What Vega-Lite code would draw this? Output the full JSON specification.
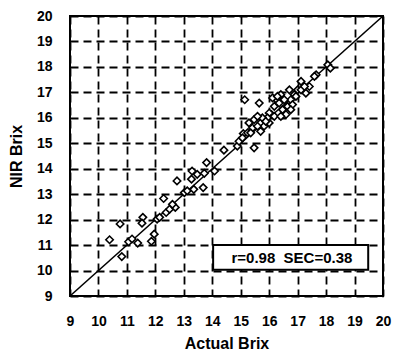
{
  "$schema": "https://vega.github.io/schema/vega-lite/v6.json",
  "autosize": "none",
  "width": 313,
  "height": 280,
  "padding": {"left": 70, "top": 16, "right": 10, "bottom": 60},
  "background": "white",
  "config": {
    "view": {"stroke": "black", "strokeWidth": 2},
    "axis": {
      "labelFont": "Liberation Sans Narrow, Liberation Sans", "labelFontWeight": "bold", "labelFontSize": 14, "labelColor": "black",
      "labelOverlap": false, "labelFlush": false, "format": "d",
      "titleFont": "Liberation Sans Narrow, Liberation Sans", "titleFontWeight": "bold", "titleFontSize": 16, "titleColor": "black",
      "grid": true, "gridColor": "black", "gridDash": [8, 5], "gridWidth": 1.8, "gridOpacity": 1,
      "domain": false, "ticks": false
    }
  },
  "datasets": {
    "pts": [
      {"a": 10.39, "n": 11.21}, {"a": 10.82, "n": 10.55}, {"a": 10.76, "n": 11.83}, {"a": 11.06, "n": 11.13},
      {"a": 11.18, "n": 11.24}, {"a": 11.38, "n": 11.08}, {"a": 11.56, "n": 12.09}, {"a": 11.53, "n": 11.86},
      {"a": 11.86, "n": 11.15}, {"a": 11.96, "n": 11.43}, {"a": 12.06, "n": 12.02}, {"a": 12.15, "n": 12.09},
      {"a": 12.29, "n": 12.83}, {"a": 12.38, "n": 12.28}, {"a": 12.5, "n": 12.41}, {"a": 12.7, "n": 12.48},
      {"a": 12.6, "n": 12.6}, {"a": 12.76, "n": 13.52}, {"a": 13.02, "n": 13.06}, {"a": 13.12, "n": 13.13},
      {"a": 13.29, "n": 13.91}, {"a": 13.27, "n": 13.59}, {"a": 13.35, "n": 13.19}, {"a": 13.47, "n": 13.78},
      {"a": 13.68, "n": 13.26}, {"a": 13.72, "n": 13.82}, {"a": 13.8, "n": 14.24}, {"a": 14.08, "n": 13.91},
      {"a": 14.41, "n": 14.73}, {"a": 14.88, "n": 14.89}, {"a": 14.94, "n": 15.08}, {"a": 15.09, "n": 15.38},
      {"a": 15.14, "n": 16.71}, {"a": 15.47, "n": 14.82}, {"a": 15.41, "n": 15.6}, {"a": 15.65, "n": 16.58},
      {"a": 15.29, "n": 15.8}, {"a": 15.47, "n": 15.93}, {"a": 15.7, "n": 15.8}, {"a": 15.82, "n": 15.67},
      {"a": 16.0, "n": 15.8}, {"a": 16.08, "n": 16.13}, {"a": 16.18, "n": 16.45}, {"a": 16.27, "n": 16.71},
      {"a": 16.41, "n": 16.91}, {"a": 16.47, "n": 16.32}, {"a": 16.59, "n": 16.13}, {"a": 16.65, "n": 16.45},
      {"a": 16.76, "n": 16.71}, {"a": 16.88, "n": 16.91}, {"a": 17.0, "n": 17.1}, {"a": 17.12, "n": 17.43},
      {"a": 17.29, "n": 16.97}, {"a": 17.41, "n": 17.23}, {"a": 16.0, "n": 16.19}, {"a": 16.18, "n": 16.06},
      {"a": 16.35, "n": 16.58}, {"a": 16.53, "n": 16.71}, {"a": 16.71, "n": 17.1}, {"a": 16.82, "n": 16.52},
      {"a": 16.94, "n": 16.84}, {"a": 15.94, "n": 16.0}, {"a": 15.76, "n": 16.0}, {"a": 15.59, "n": 16.06},
      {"a": 16.41, "n": 16.06}, {"a": 17.65, "n": 17.69}, {"a": 17.59, "n": 17.63}, {"a": 18.06, "n": 18.08},
      {"a": 18.15, "n": 17.95}, {"a": 17.12, "n": 17.1}, {"a": 17.24, "n": 17.23}, {"a": 16.76, "n": 16.32},
      {"a": 15.06, "n": 15.21}, {"a": 15.24, "n": 15.41}, {"a": 15.59, "n": 15.67}, {"a": 15.88, "n": 15.86},
      {"a": 16.12, "n": 16.78}, {"a": 16.29, "n": 16.84}, {"a": 15.7, "n": 15.47}, {"a": 15.35, "n": 15.41}
    ],
    "diag": [{"x1": 9, "y1": 9, "x2": 20, "y2": 20}],
    "box": [{"x1": 14.03, "y1": 10.03, "x2": 19.48, "y2": 11.0, "tx": 16.8, "ty": 10.5, "label": "r=0.98\u00a0\u00a0SEC=0.38"}]
  },
  "encoding": {
    "x": {"type": "quantitative", "scale": {"domain": [9, 20], "nice": false, "zero": false},
          "axis": {"values": [9,10,11,12,13,14,15,16,17,18,19,20], "tickCount": 30, "title": "Actual Brix", "labelPadding": 18, "titlePadding": 7}},
    "y": {"type": "quantitative", "scale": {"domain": [9, 20], "nice": false, "zero": false},
          "axis": {"values": [9,10,11,12,13,14,15,16,17,18,19,20], "tickCount": 30, "title": "NIR Brix", "labelPadding": 18, "titlePadding": 12}}
  },
  "layer": [
    {
      "data": {"name": "diag"},
      "mark": {"type": "rule", "color": "black", "strokeWidth": 1.6},
      "encoding": {
        "x": {"field": "x1"},
        "y": {"field": "y1"},
        "x2": {"field": "x2"},
        "y2": {"field": "y2"}
      }
    },
    {
      "data": {"name": "pts"},
      "mark": {"type": "point", "shape": "diamond", "filled": true, "fill": "white", "stroke": "black", "strokeWidth": 1.6, "size": 55, "opacity": 1},
      "encoding": {
        "x": {"field": "a"},
        "y": {"field": "n"}
      }
    },
    {
      "data": {"name": "box"},
      "mark": {"type": "rect", "fill": "white", "stroke": "black", "strokeWidth": 2},
      "encoding": {
        "x": {"field": "x1"},
        "x2": {"field": "x2"},
        "y": {"field": "y1"},
        "y2": {"field": "y2"}
      }
    },
    {
      "data": {"name": "box"},
      "mark": {"type": "text", "font": "Liberation Sans", "fontWeight": "bold", "fontSize": 15, "color": "black", "align": "center", "baseline": "middle"},
      "encoding": {
        "x": {"field": "tx"},
        "y": {"field": "ty"},
        "text": {"field": "label"}
      }
    }
  ]
}
